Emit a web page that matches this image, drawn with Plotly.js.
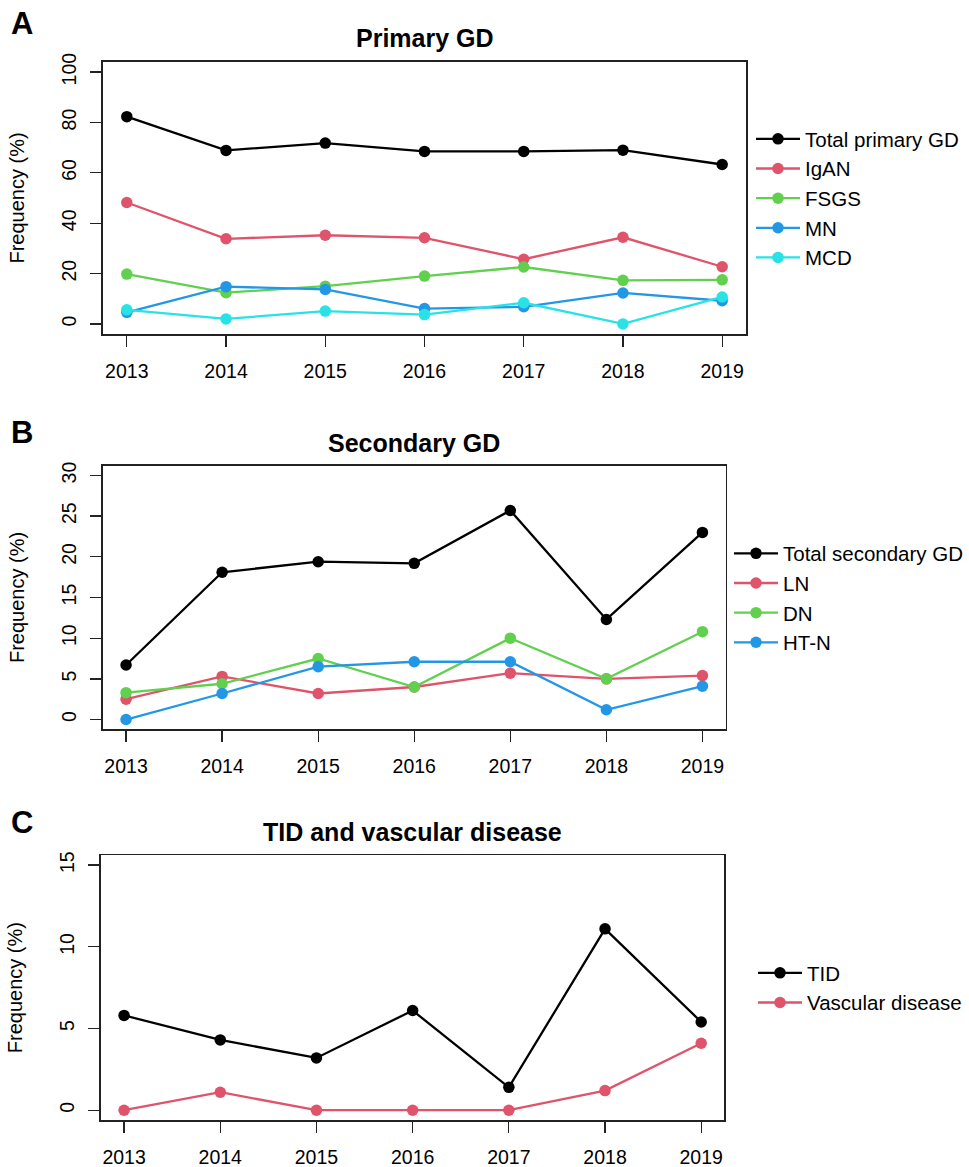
<!DOCTYPE html>
<html>
<head>
<meta charset="utf-8">
<script src="https://cdn.plot.ly/plotly-3.0.1.min.js"></script>
<style>html,body{margin:0;padding:0;background:#fff;}#chart{width:969px;height:1167px;}</style>
</head>
<body>
<div id="chart"></div>
<script>
// ---- data ----
const years = [2013, 2014, 2015, 2016, 2017, 2018, 2019];

// Panel A: Primary GD
const primaryNames = ["Total primary GD", "IgAN", "FSGS", "MN", "MCD"];
const totalPrimary = [82.3, 68.9, 71.8, 68.5, 68.5, 69.0, 63.3];
const igan = [48.2, 33.8, 35.2, 34.2, 25.7, 34.4, 22.7];
const fsgs = [19.8, 12.4, 15.0, 19.0, 22.6, 17.3, 17.5];
const mn = [4.6, 14.8, 13.7, 6.1, 6.8, 12.3, 9.2];
const mcd = [5.6, 2.0, 5.1, 3.7, 8.4, 0.0, 10.7];

// Panel B: Secondary GD
const secondaryNames = ["Total secondary GD", "LN", "DN", "HT-N"];
const totalSecondary = [6.7, 18.1, 19.4, 19.2, 25.7, 12.3, 23.0];
const ln = [2.5, 5.3, 3.2, 4.0, 5.7, 5.0, 5.4];
const dn = [3.3, 4.4, 7.5, 4.0, 10.0, 5.0, 10.8];
const htn = [0.0, 3.2, 6.5, 7.1, 7.1, 1.2, 4.1];

// Panel C: TID and vascular disease
const tidNames = ["TID", "Vascular disease"];
const tid = [5.8, 4.3, 3.2, 6.1, 1.4, 11.1, 5.4];
const vascular = [0.0, 1.1, 0.0, 0.0, 0.0, 1.2, 4.1];

const panelTitles = ["Primary GD", "Secondary GD", "TID and vascular disease"];
const panelLetters = ["A", "B", "C"];
const yTitle = "Frequency (%)";

// ---- styling ----
const palette = ["#000000", "#DF536B", "#61D04F", "#2297E6", "#28E2E5"];
const FONT = "Liberation Sans, Arial, Helvetica, sans-serif";
const W = 969, H = 1167;
const px = v => v / W;
const py = v => 1 - v / H;

function mk(name, y, ci, xa, ya, leg) {
  return {
    type: "scatter", mode: "lines+markers", x: years, y: y, name: name,
    xaxis: xa, yaxis: ya, legend: leg,
    line: {color: palette[ci], width: 2.3},
    marker: {color: palette[ci], size: 11.5},
    hoverinfo: "x+y+name"
  };
}

const traces = [];
[totalPrimary, igan, fsgs, mn, mcd].forEach((s, i) => traces.push(mk(primaryNames[i], s, i, "x", "y", "legend")));
[totalSecondary, ln, dn, htn].forEach((s, i) => traces.push(mk(secondaryNames[i], s, i, "x2", "y2", "legend2")));
[tid, vascular].forEach((s, i) => traces.push(mk(tidNames[i], s, i, "x3", "y3", "legend3")));

function xax(domain) {
  return {
    domain: domain, range: [2012.76, 2019.24], tickvals: years, ticktext: years.map(String),
    showgrid: false, zeroline: false, showline: true, mirror: true,
    linecolor: "#222", linewidth: 1.6, ticks: "outside", ticklen: 11, tickwidth: 1.3, tickcolor: "#222",
    tickfont: {family: FONT, size: 19.5, color: "#000"}, ticklabelstandoff: 8, fixedrange: true
  };
}
function yax(domain, range, tv, anchor) {
  return {
    domain: domain, range: range, tickvals: tv, anchor: anchor,
    showgrid: false, zeroline: false, showline: true, mirror: true,
    linecolor: "#222", linewidth: 1.6, ticks: "outside", ticklen: 11, tickwidth: 1.3, tickcolor: "#222",
    tickangle: -90, tickfont: {family: FONT, size: 19.5, color: "#000"}, ticklabelstandoff: 7,
    title: {text: yTitle, font: {family: FONT, size: 20, color: "#000"}, standoff: 27},
    fixedrange: true
  };
}

const yA = [0, 20, 40, 60, 80, 100], yB = [0, 5, 10, 15, 20, 25, 30], yC = [0, 5, 10, 15];

function legendAt(xLeft, yCenter) {
  return {
    x: px(xLeft), xanchor: "left", y: py(yCenter), yanchor: "middle",
    bgcolor: "rgba(0,0,0,0)", borderwidth: 0,
    font: {family: FONT, size: 20.5, color: "#000"}, itemwidth: 44, tracegroupgap: 0
  };
}

const annotations = [];
const titleY = [38, 443, 832];
const titleX = [424.5, 414, 412.5];
const letterY = [23, 432, 822];
panelTitles.forEach((t, i) => {
  annotations.push({text: "<b>" + t + "</b>", x: px(titleX[i]), y: py(titleY[i]), xref: "paper", yref: "paper",
    xanchor: "center", yanchor: "middle", showarrow: false, font: {family: FONT, size: 25, color: "#000"}});
  annotations.push({text: "<b>" + panelLetters[i] + "</b>", x: px(9), y: py(letterY[i]), xref: "paper", yref: "paper",
    xanchor: "left", yanchor: "middle", showarrow: false, font: {family: FONT, size: 31, color: "#000"}});
});

const layout = {
  width: W, height: H, margin: {l: 0, r: 0, t: 0, b: 0},
  paper_bgcolor: "#fff", plot_bgcolor: "#fff", showlegend: true,
  font: {family: FONT, color: "#000"},
  xaxis: Object.assign(xax([px(103), px(746)]), {anchor: "y"}),
  yaxis: yax([py(334), py(62)], [-4, 104], yA, "x"),
  xaxis2: Object.assign(xax([px(103), px(725.5)]), {anchor: "y2"}),
  yaxis2: yax([py(729.3), py(465.7)], [-1.2, 31.2], yB, "x2"),
  xaxis3: Object.assign(xax([px(101), px(724.3)]), {anchor: "y3"}),
  yaxis3: yax([py(1120), py(855.3)], [-0.6, 15.6], yC, "x3"),
  legend: legendAt(751, 198.5),
  legend2: legendAt(729, 598),
  legend3: legendAt(753, 988),
  annotations: annotations
};

Plotly.newPlot("chart", traces, layout, {displayModeBar: false, staticPlot: true});
</script>
</body>
</html>
